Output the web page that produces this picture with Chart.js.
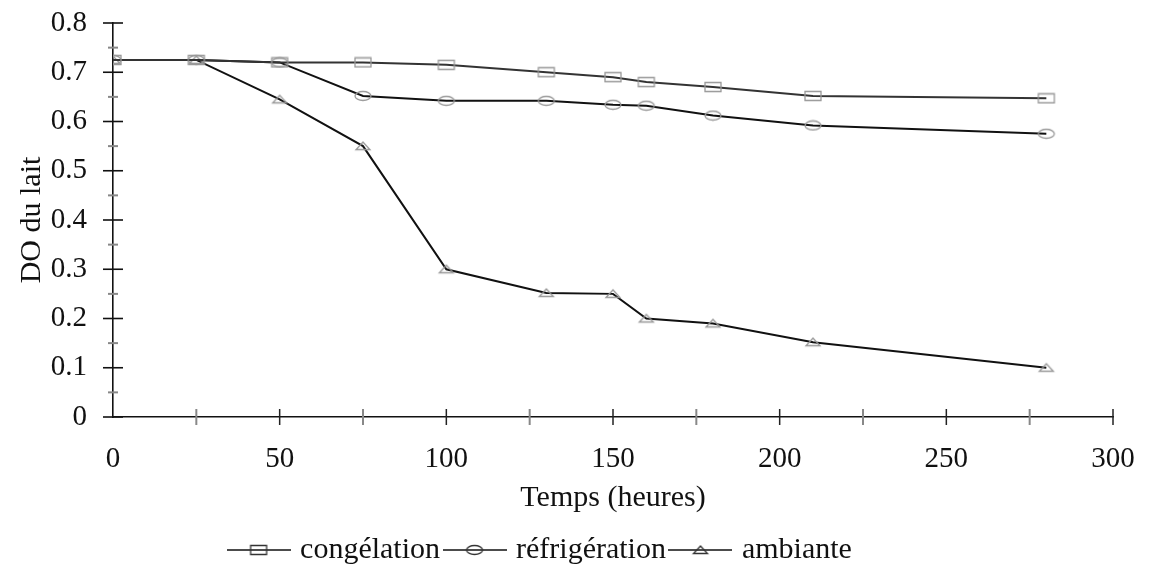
<!DOCTYPE html>
<html>
<head>
<meta charset="utf-8">
<script src="https://cdn.jsdelivr.net/npm/chart.js@4"></script>
<style>
  html, body { margin: 0; padding: 0; background: #fff; }
  #wrap { width: 1152px; height: 575px; }
</style>
</head>
<body>
<div id="wrap"><canvas id="myChart" width="1152" height="575"></canvas></div>
<script>
const hours = [0, 25, 50, 75, 100, 130, 150, 160, 180, 210, 280];
const congelation = [0.725, 0.725, 0.72, 0.72, 0.715, 0.70, 0.69, 0.68, 0.67, 0.652, 0.647];
const refrigeration = [0.725, 0.725, 0.72, 0.652, 0.642, 0.642, 0.634, 0.632, 0.612, 0.592, 0.575];
const ambiante = [0.725, 0.725, 0.645, 0.55, 0.30, 0.252, 0.25, 0.20, 0.19, 0.152, 0.10];
const seriesNames = ["congélation", "réfrigération", "ambiante"];
const xTitle = "Temps (heures)";
const yTitle = "DO du lait";

const FONT = "'Liberation Serif', 'Times New Roman', serif";

// small hollow markers drawn once into canvases
const makeMarker = (shape, w, h, withLine) => {
  const c = document.createElement("canvas");
  c.width = w;
  c.height = h;
  const ctx = c.getContext("2d");
  const cx = w / 2, cy = h / 2;
  if (withLine) {
    ctx.strokeStyle = "#111";
    ctx.lineWidth = 1.6;
    ctx.beginPath();
    ctx.moveTo(0, cy);
    ctx.lineTo(w, cy);
    ctx.stroke();
  }
  ctx.strokeStyle = withLine ? "#333" : "#999";
  ctx.lineWidth = 1.3;
  ctx.beginPath();
  if (shape === "rect") {
    ctx.rect(cx - 8, cy - 4.5, 16, 9);
  } else if (shape === "circle") {
    ctx.ellipse(cx, cy, 8, 4.5, 0, 0, Math.PI * 2);
  } else {
    ctx.moveTo(cx - 7, cy + 3.5);
    ctx.lineTo(cx + 7, cy + 3.5);
    ctx.lineTo(cx, cy - 4);
    ctx.closePath();
  }
  ctx.stroke();
  return c;
};

const shapes = ["rect", "circle", "triangle"];
const pointImgs = shapes.map((s) => makeMarker(s, 20, 12, false));
const legendImgs = shapes.map((s) => makeMarker(s, 64, 14, true));

const toPoints = (vals) => hours.map((h, i) => ({ x: h, y: vals[i] }));

// ticks that cross the axis line, major and minor
const crossTicks = {
  id: "crossTicks",
  afterDraw(chart) {
    const { ctx, scales } = chart;
    const xs = scales.x, ys = scales.y;
    const x0 = xs.getPixelForValue(0);
    const y0 = ys.getPixelForValue(0);
    ctx.save();
    for (let v = 0; v <= 0.8001; v += 0.05) {
      const py = ys.getPixelForValue(v);
      const major = Math.abs(v * 10 - Math.round(v * 10)) < 0.01;
      ctx.strokeStyle = major ? "#111" : "#888";
      ctx.lineWidth = major ? 1.6 : 2;
      const half = major ? 10 : 5;
      ctx.beginPath();
      ctx.moveTo(x0 - half, py);
      ctx.lineTo(x0 + half, py);
      ctx.stroke();
    }
    for (let v = 25; v <= 300; v += 25) {
      const px = xs.getPixelForValue(v);
      const major = v % 50 === 0;
      ctx.strokeStyle = major ? "#222" : "#888";
      ctx.lineWidth = major ? 1.5 : 2;
      ctx.beginPath();
      ctx.moveTo(px, y0 - 8);
      ctx.lineTo(px, y0 + 8);
      ctx.stroke();
    }
    ctx.restore();
  },
};

const lineColors = ["#333", "#111", "#111"];
const shiftLeft = 29; // legend sits a bit left of centre in the original

new Chart(document.getElementById("myChart"), {
  type: "line",
  data: {
    datasets: [congelation, refrigeration, ambiante].map((vals, i) => ({
      label: seriesNames[i],
      data: toPoints(vals),
      borderColor: lineColors[i],
      borderWidth: 2,
      pointStyle: pointImgs[i],
      pointRadius: 6,
      tension: 0,
    })),
  },
  options: {
    responsive: false,
    animation: false,
    layout: { padding: { left: -shiftLeft, right: 39, top: 0, bottom: 0 } },
    plugins: {
      tooltip: { enabled: false },
      legend: {
        position: "bottom",
        labels: {
          usePointStyle: true,
          pointStyleWidth: 53,
          color: "#111",
          padding: 8,
          font: { family: FONT, size: 30 },
          generateLabels: (chart) =>
            chart.data.datasets.map((ds, i) => ({
              text: ds.label,
              pointStyle: legendImgs[i],
              fillStyle: "#fff",
              strokeStyle: "#111",
              lineWidth: 0,
              datasetIndex: i,
              fontColor: "#111",
            })),
        },
      },
    },
    scales: {
      x: {
        type: "linear",
        min: 0,
        max: 300,
        grid: { display: false, drawTicks: false },
        border: { display: true, color: "#111", width: 1.6 },
        ticks: {
          stepSize: 50,
          padding: 25,
          color: "#111",
          font: { family: FONT, size: 29 },
        },
        title: {
          display: true,
          text: xTitle,
          color: "#111",
          padding: { top: 3, bottom: 11 },
          font: { family: FONT, size: 30 },
        },
        afterFit: (scale) => {
          scale.height = 110;
          scale.paddingRight = 39;
          scale.paddingLeft = 0;
        },
      },
      y: {
        min: 0,
        max: 0.8,
        grid: { display: false, drawTicks: false },
        border: { display: true, color: "#111", width: 1.6 },
        ticks: {
          stepSize: 0.1,
          padding: 26,
          color: "#111",
          font: { family: FONT, size: 29 },
          callback: (v) => (v === 0 ? "0" : v.toFixed(1)),
        },
        title: {
          display: true,
          text: yTitle,
          color: "#111",
          padding: { top: 43, bottom: 4 },
          font: { family: FONT, size: 30 },
        },
        afterFit: (scale) => {
          scale.width = 113 + shiftLeft;
          scale.paddingTop = 23;
          scale.paddingBottom = 0;
        },
      },
    },
  },
  plugins: [crossTicks],
});
</script>
</body>
</html>
